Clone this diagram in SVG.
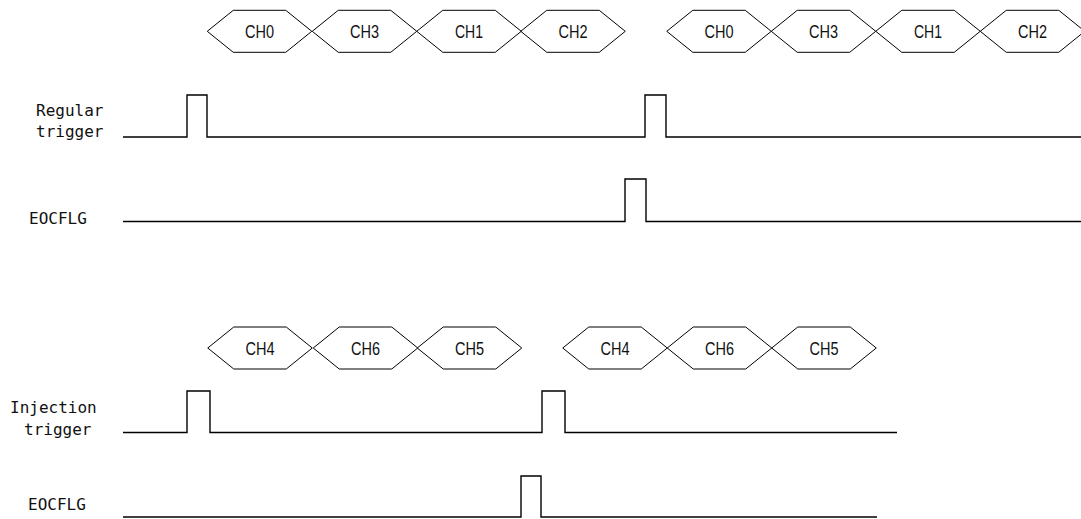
<svg xmlns="http://www.w3.org/2000/svg" width="1081" height="519" viewBox="0 0 1081 519">
<style>
.hex{fill:none;stroke:#000;stroke-width:1}
.ch{font-family:"Liberation Sans",Arial,sans-serif;font-size:18px;fill:#111;text-anchor:middle}
.lbl{font-family:"DejaVu Sans Mono","Liberation Mono",monospace;font-size:16px;fill:#111}
.wave{fill:none;stroke:#000;stroke-width:1.4}
</style>
<defs>
<polygon id="hx" points="-52.25,0 -26.25,-21 26.25,-21 52.25,0 26.25,21 -26.25,21"/>
</defs>
<rect width="1081" height="519" fill="#fff"/>
<g id="regular-sequence-1">
<g id="r1-ch0"><use href="#hx" class="hex" x="259.5" y="31.3"/><text class="ch" x="259.5" y="38" textLength="29" lengthAdjust="spacingAndGlyphs">CH0</text></g>
<g id="r1-ch3"><use href="#hx" class="hex" x="364.5" y="31.3"/><text class="ch" x="364.5" y="38" textLength="29" lengthAdjust="spacingAndGlyphs">CH3</text></g>
<g id="r1-ch1"><use href="#hx" class="hex" x="469" y="31.3"/><text class="ch" x="469" y="38" textLength="28" lengthAdjust="spacingAndGlyphs">CH1</text></g>
<g id="r1-ch2"><use href="#hx" class="hex" x="573" y="31.3"/><text class="ch" x="573" y="38" textLength="29" lengthAdjust="spacingAndGlyphs">CH2</text></g>
</g>
<g id="regular-sequence-2">
<g id="r2-ch0"><use href="#hx" class="hex" x="719" y="31.3"/><text class="ch" x="719" y="38" textLength="29" lengthAdjust="spacingAndGlyphs">CH0</text></g>
<g id="r2-ch3"><use href="#hx" class="hex" x="823.5" y="31.3"/><text class="ch" x="823.5" y="38" textLength="29" lengthAdjust="spacingAndGlyphs">CH3</text></g>
<g id="r2-ch1"><use href="#hx" class="hex" x="928" y="31.3"/><text class="ch" x="928" y="38" textLength="28" lengthAdjust="spacingAndGlyphs">CH1</text></g>
<g id="r2-ch2"><use href="#hx" class="hex" x="1032.5" y="31.3"/><text class="ch" x="1032.5" y="38" textLength="29" lengthAdjust="spacingAndGlyphs">CH2</text></g>
</g>
<g id="injected-sequence-1">
<g id="i1-ch4"><use href="#hx" class="hex" x="260" y="348"/><text class="ch" x="260" y="355" textLength="29" lengthAdjust="spacingAndGlyphs">CH4</text></g>
<g id="i1-ch6"><use href="#hx" class="hex" x="365.5" y="348"/><text class="ch" x="365.5" y="355" textLength="29" lengthAdjust="spacingAndGlyphs">CH6</text></g>
<g id="i1-ch5"><use href="#hx" class="hex" x="469.5" y="348"/><text class="ch" x="469.5" y="355" textLength="29" lengthAdjust="spacingAndGlyphs">CH5</text></g>
</g>
<g id="injected-sequence-2">
<g id="i2-ch4"><use href="#hx" class="hex" x="615" y="348"/><text class="ch" x="615" y="355" textLength="29" lengthAdjust="spacingAndGlyphs">CH4</text></g>
<g id="i2-ch6"><use href="#hx" class="hex" x="719.5" y="348"/><text class="ch" x="719.5" y="355" textLength="29" lengthAdjust="spacingAndGlyphs">CH6</text></g>
<g id="i2-ch5"><use href="#hx" class="hex" x="824" y="348"/><text class="ch" x="824" y="355" textLength="29" lengthAdjust="spacingAndGlyphs">CH5</text></g>
</g>
<g id="labels">
<g id="label-regular"><text class="lbl" x="36" y="116">Regular</text><text class="lbl" x="36" y="137">trigger</text></g>
<g id="label-eocflg-1"><text class="lbl" x="29" y="224">EOCFLG</text></g>
<g id="label-injection"><text class="lbl" x="10" y="413">Injection</text><text class="lbl" x="24" y="435">trigger</text></g>
<g id="label-eocflg-2"><text class="lbl" x="28" y="510">EOCFLG</text></g>
</g>
<g id="connectors">
<polyline id="wave-regular" class="wave" points="123,137 187,137 187,95 207,95 207,137 645,137 645,95 666,95 666,137 1081,137"/>
<polyline id="wave-eocflg-1" class="wave" points="123,221.5 625,221.5 625,179 646,179 646,221.5 1081,221.5"/>
<polyline id="wave-injection" class="wave" points="123,432.5 187,432.5 187,391 210,391 210,432.5 542,432.5 542,391 565,391 565,432.5 897,432.5"/>
<polyline id="wave-eocflg-2" class="wave" points="123,517 521,517 521,476 541,476 541,517 877,517"/>
</g>
</svg>
